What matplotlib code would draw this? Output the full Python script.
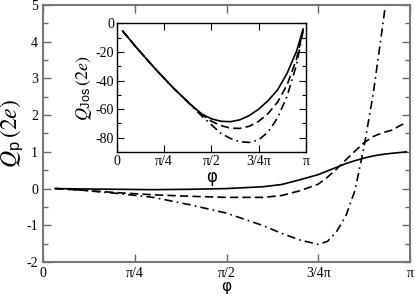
import numpy as np
import matplotlib
matplotlib.use("Agg")
import matplotlib.pyplot as plt
from matplotlib.ticker import MultipleLocator

plt.rcParams['font.family'] = ['Liberation Serif', 'DejaVu Serif']
plt.rcParams['mathtext.fontset'] = 'custom'
plt.rcParams['mathtext.rm'] = 'STIXGeneral'
plt.rcParams['mathtext.it'] = 'STIXGeneral:italic'
plt.rcParams['mathtext.sf'] = 'Liberation Sans'
plt.rcParams['axes.unicode_minus'] = False

# main panel, phi in units of pi
phi = [0.033, 0.1, 0.2, 0.3, 0.4, 0.5, 0.6, 0.65, 0.7, 0.75, 0.775, 0.8,
       0.825, 0.85, 0.875, 0.9, 0.925, 0.95, 0.97, 0.99]
qp_solid = [0.0, -0.01, -0.02, -0.03, -0.02, 0.0, 0.05, 0.11, 0.24, 0.38, 0.48,
            0.58, 0.68, 0.76, 0.83, 0.89, 0.93, 0.96, 0.98, 1.0]
qp_dash = [0.0, -0.04, -0.11, -0.17, -0.21, -0.24, -0.24, -0.19, -0.06, 0.12, 0.31,
           0.53, 0.78, 1.02, 1.25, 1.42, 1.52, 1.59, 1.70, 1.80]
qp_dashdot = [0.0, -0.04, -0.13, -0.24, -0.44, -0.67, -1.01, -1.22, -1.40, -1.52,
              -1.44, -1.17, -0.75, -0.05, 1.15, 2.6, 4.4, 6.3, 8.5, 11.0]

# inset
phi_in = [0.03, 0.1, 0.2, 0.3, 0.4, 0.45, 0.5, 0.55, 0.6, 0.65, 0.7, 0.75,
          0.8, 0.85, 0.9, 0.95, 0.985]
qj_solid = [-5.4, -16.5, -31.5, -45.5, -58, -63.5, -66.8, -68.5, -68.8, -67.5,
            -64.5, -60, -54, -46.5, -35, -19.5, -4]
qj_dash = [-5.4, -16.5, -31.5, -45.5, -58, -64, -68.5, -71.5, -73.3, -73.5,
           -72, -68.5, -63, -55, -43, -25, -4.5]
qj_dashdot = [-5.4, -16.5, -31.5, -45.5, -58.5, -65, -71, -77, -80.5, -82.8,
              -83.3, -81.5, -76, -66, -51, -29, -5]

tick_pos = [0, 0.25, 0.5, 0.75, 1.0]
tick_lab = ['0', 'π/4', 'π/2', '3/4π', 'π']

styles = [dict(ls='-'), dict(ls=(0, (5, 2.5))), dict(ls=(0, (5, 2.5, 1, 2.5)))]

fig = plt.figure(figsize=(4.15, 2.95), dpi=100)
ax = fig.add_axes([0.1036, 0.1119, 0.8844, 0.8712])
x = np.array(phi) * np.pi
for y, st in zip([qp_solid, qp_dash, qp_dashdot], styles):
    ax.plot(x, y, color='black', lw=1.2, **st)
ax.set_xlim(0, np.pi)
ax.set_ylim(-2, 5)
ax.set_xticks(np.array(tick_pos) * np.pi)
ax.set_xticklabels(tick_lab)
ax.yaxis.set_major_locator(MultipleLocator(1))
ax.yaxis.set_minor_locator(MultipleLocator(0.5))
ax.tick_params(which='both', direction='in', top=True, right=True, labelsize=10)
ax.tick_params(which='major', length=6, width=1, color='#666666')
ax.tick_params(which='minor', length=3.5, width=1, color='#666666')
for s in ax.spines.values():
    s.set_color('#777777')
    s.set_linewidth(1.5)
ax.set_xlabel('φ', fontsize=11, family=['DejaVu Sans'])
ax.xaxis.set_label_coords(0.5, -0.066)
ax.set_ylabel(r'$Q_{\mathsf{p}}\,(2e)$', fontsize=17)
ax.yaxis.set_label_coords(-0.048, 0.5)

ins = fig.add_axes([0.2819, 0.4847, 0.4554, 0.4363])
xi = np.array(phi_in) * np.pi
for y, st in zip([qj_solid, qj_dash, qj_dashdot], styles):
    ins.plot(xi, y, color='black', lw=1.2, **st)
ins.set_xlim(0, np.pi)
ins.set_ylim(-90, 0)
ins.set_xticks(np.array(tick_pos) * np.pi)
ins.set_xticklabels(tick_lab)
ins.yaxis.set_major_locator(MultipleLocator(20))
ins.yaxis.set_minor_locator(MultipleLocator(10))
ins.tick_params(which='both', direction='in', top=True, right=True, labelsize=10, pad=2)
ins.tick_params(which='major', length=5, width=0.8)
ins.tick_params(which='minor', length=3, width=0.8)
for s in ins.spines.values():
    s.set_linewidth(1.0)
ins.set_xlabel('φ', fontsize=12, family=['DejaVu Sans'], labelpad=0)
ins.set_ylabel(r'$Q_{\mathsf{Jos}}\,(2e)$', fontsize=13, labelpad=1)

fig.savefig('out.png', dpi=100)
